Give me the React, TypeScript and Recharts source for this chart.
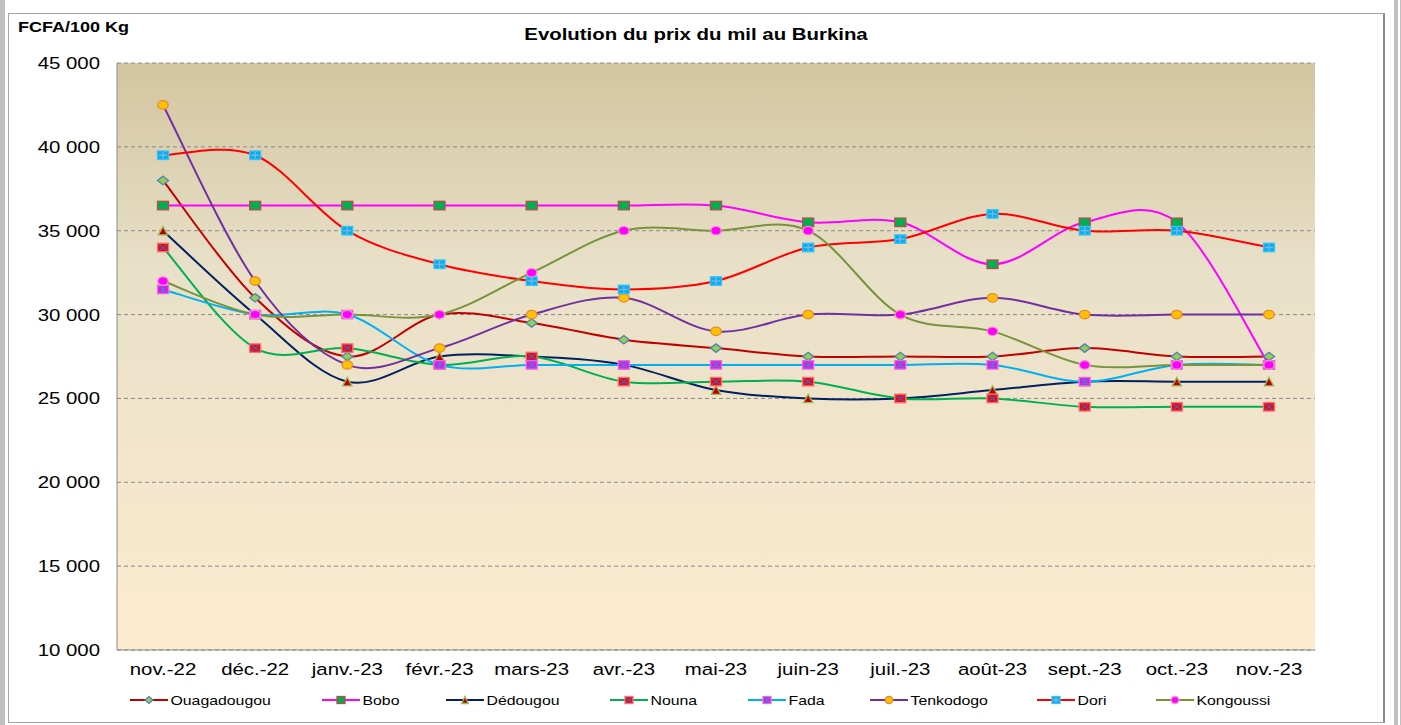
import React from 'react';
import { LineChart, Line, XAxis, YAxis, CartesianGrid } from 'recharts';

const months = ['nov.-22', 'déc.-22', 'janv.-23', 'févr.-23', 'mars-23', 'avr.-23', 'mai-23', 'juin-23', 'juil.-23', 'août-23', 'sept.-23', 'oct.-23', 'nov.-23'];

const ouagadougou = [38000, 31000, 27500, 30000, 29500, 28500, 28000, 27500, 27500, 27500, 28000, 27500, 27500];
const bobo = [36500, 36500, 36500, 36500, 36500, 36500, 36500, 35500, 35500, 33000, 35500, 35500, 27000];
const dedougou = [35000, 30000, 26000, 27500, 27500, 27000, 25500, 25000, 25000, 25500, 26000, 26000, 26000];
const nouna = [34000, 28000, 28000, 27000, 27500, 26000, 26000, 26000, 25000, 25000, 24500, 24500, 24500];
const fada = [31500, 30000, 30000, 27000, 27000, 27000, 27000, 27000, 27000, 27000, 26000, 27000, 27000];
const tenkodogo = [42500, 32000, 27000, 28000, 30000, 31000, 29000, 30000, 30000, 31000, 30000, 30000, 30000];
const dori = [39500, 39500, 35000, 33000, 32000, 31500, 32000, 34000, 34500, 36000, 35000, 35000, 34000];
const kongoussi = [32000, 30000, 30000, 30000, 32500, 35000, 35000, 35000, 30000, 29000, 27000, 27000, 27000];

const seriesNames = ['Ouagadougou', 'Bobo', 'Dédougou', 'Nouna', 'Fada', 'Tenkodogo', 'Dori', 'Kongoussi'];
const seriesValues = [ouagadougou, bobo, dedougou, nouna, fada, tenkodogo, dori, kongoussi];
const yTicks = [10000, 15000, 20000, 25000, 30000, 35000, 40000, 45000];

const chartTitle = 'Evolution du prix du mil au Burkina';
const unitLabel = 'FCFA/100 Kg';

type Sty = { color: string; marker: string; fill: string; stroke: string; inner?: string; innerColor?: string };
const STYLES: Sty[] = [
  { color: '#c00000', marker: 'diamond', fill: '#92d050', stroke: '#4f81bd' },
  { color: '#ff00ff', marker: 'square', fill: '#00b050', stroke: '#b0504a' },
  { color: '#002060', marker: 'triangle', fill: '#c00000', stroke: '#9bbb59' },
  { color: '#00b050', marker: 'square', fill: '#ff0000', stroke: '#ff7070', inner: 'x', innerColor: '#4060c0' },
  { color: '#00b0f0', marker: 'square', fill: '#ff00ff', stroke: '#e070e0', inner: 'star', innerColor: '#4f81bd' },
  { color: '#7030a0', marker: 'circle', fill: '#ffc000', stroke: '#e68a30' },
  { color: '#ff0000', marker: 'square', fill: '#00b0f0', stroke: '#40c0f0', inner: 'plus', innerColor: '#8db4e2' },
  { color: '#77933c', marker: 'circle', fill: '#ff00ff', stroke: '#f090d0' },
];

const data = months.map((m, i) => {
  const row: any = { month: m };
  seriesNames.forEach((n, k) => {
    row[n] = seriesValues[k][i];
  });
  return row;
});

const FONT = "'Liberation Sans', Arial, Helvetica, sans-serif";
const SX = 1.2;

// Excel-like smoothed line (Catmull-Rom style bezier)
const excelCurve: any = (context: any) => {
  let pts: number[][] = [];
  return {
    areaStart() {},
    areaEnd() {},
    lineStart() {
      pts = [];
    },
    lineEnd() {
      const n = pts.length;
      if (!n) return;
      context.moveTo(pts[0][0], pts[0][1]);
      if (n === 2) {
        context.lineTo(pts[1][0], pts[1][1]);
        return;
      }
      for (let i = 0; i < n - 1; i++) {
        const p0 = pts[i - 1] || pts[i];
        const p1 = pts[i];
        const p2 = pts[i + 1];
        const p3 = pts[i + 2] || p2;
        const c1x = p1[0] + (p2[0] - p0[0]) / 6;
        const c1y = p1[1] + (p2[1] - p0[1]) / 6;
        const c2x = p2[0] - (p3[0] - p1[0]) / 6;
        const c2y = p2[1] - (p3[1] - p1[1]) / 6;
        context.bezierCurveTo(c1x, c1y, c2x, c2y, p2[0], p2[1]);
      }
    },
    point(x: number, y: number) {
      pts.push([+x, +y]);
    },
  };
};

function Marker({ cx, cy, s, w, h }: { cx: number; cy: number; s: Sty; w: number; h: number }) {
  const hw = w / 2;
  const hh = h / 2;
  let shape: any = null;
  if (s.marker === 'diamond') {
    shape = <polygon points={`${cx},${cy - hh} ${cx + hw},${cy} ${cx},${cy + hh} ${cx - hw},${cy}`} fill={s.fill} stroke={s.stroke} strokeWidth={1.3} />;
  } else if (s.marker === 'square') {
    shape = <rect x={cx - hw} y={cy - hh} width={w} height={h} fill={s.fill} stroke={s.stroke} strokeWidth={1.3} />;
  } else if (s.marker === 'triangle') {
    shape = <polygon points={`${cx},${cy - hh} ${cx + hw * 0.85},${cy + hh} ${cx - hw * 0.85},${cy + hh}`} fill={s.fill} stroke={s.stroke} strokeWidth={1.3} />;
  } else {
    shape = <ellipse cx={cx} cy={cy} rx={hw * 0.95} ry={hh} fill={s.fill} stroke={s.stroke} strokeWidth={1.3} />;
  }
  let inner: any = null;
  const ic = s.innerColor;
  const ix = hw * 0.75;
  const iy = hh * 0.75;
  if (s.inner === 'x') {
    inner = (
      <g stroke={ic} strokeWidth={1.2}>
        <line x1={cx - ix} y1={cy - iy} x2={cx + ix} y2={cy + iy} />
        <line x1={cx - ix} y1={cy + iy} x2={cx + ix} y2={cy - iy} />
      </g>
    );
  } else if (s.inner === 'star') {
    inner = (
      <g stroke={ic} strokeWidth={1.2}>
        <line x1={cx - ix} y1={cy - iy} x2={cx + ix} y2={cy + iy} />
        <line x1={cx - ix} y1={cy + iy} x2={cx + ix} y2={cy - iy} />
        <line x1={cx} y1={cy - iy} x2={cx} y2={cy + iy} />
      </g>
    );
  } else if (s.inner === 'plus') {
    inner = (
      <g stroke={ic} strokeWidth={1.2}>
        <line x1={cx - ix} y1={cy} x2={cx + ix} y2={cy} />
        <line x1={cx} y1={cy - iy} x2={cx} y2={cy + iy} />
      </g>
    );
  }
  return (
    <g>
      {shape}
      {inner}
    </g>
  );
}

const fmt = (v: number) => {
  const s = String(v);
  return s.length > 3 ? s.slice(0, s.length - 3) + ' ' + s.slice(s.length - 3) : s;
};

const YTick = (p: any) => (
  <text
    x={p.x}
    y={p.y}
    dy={6}
    textAnchor="end"
    fontSize={17}
    fill="#000"
    fontFamily={FONT}
    transform={`translate(${p.x},0) scale(${SX},1) translate(${-p.x},0)`}
  >
    {fmt(p.payload.value)}
  </text>
);

const XTick = (p: any) => (
  <text
    x={p.x}
    y={675}
    textAnchor="middle"
    fontSize={17}
    fill="#000"
    fontFamily={FONT}
    transform={`translate(${p.x},0) scale(${SX},1) translate(${-p.x},0)`}
  >
    {p.payload.value}
  </text>
);

const legendX = [130, 322, 446, 610, 748, 870, 1037, 1156];

function Legend() {
  const y = 700;
  return (
    <svg width={1401} height={725} style={{ position: 'absolute', left: 0, top: 0, pointerEvents: 'none' }}>
      {seriesNames.map((n, i) => {
        const x0 = legendX[i];
        const s = STYLES[i];
        return (
          <g key={n}>
            <line x1={x0} y1={y} x2={x0 + 38} y2={y} stroke={s.color} strokeWidth={2} />
            <Marker cx={x0 + 19} cy={y} s={s} w={8} h={7} />
            <text
              x={x0 + 40.5}
              y={y + 5}
              fontSize={13.2}
              fontFamily={FONT}
              fill="#000"
              transform={`translate(${x0 + 40.5},0) scale(${SX},1) translate(${-(x0 + 40.5)},0)`}
            >
              {n}
            </text>
          </g>
        );
      })}
    </svg>
  );
}

export default function App() {
  return (
    <div style={{ position: 'absolute', left: 0, top: 0, width: 1401, height: 725, background: '#fff', overflow: 'hidden' }}>
      {/* frame */}
      <div style={{ position: 'absolute', left: 0, top: 0, width: 5, height: 725, background: '#c0c0c0' }} />
      <div style={{ position: 'absolute', left: 1394, top: 0, width: 4, height: 725, background: '#c0c0c0' }} />
      <div style={{ position: 'absolute', left: 1400, top: 0, width: 1, height: 725, background: '#c0c0c0' }} />
      <div
        style={{
          position: 'absolute',
          left: 8,
          top: 13,
          width: 1374,
          height: 708,
          borderTop: '1px solid #a6a6a6',
          borderLeft: '1px solid #a6a6a6',
          borderBottom: '1px solid #a6a6a6',
          borderRight: '2px solid #8c8c8c',
        }}
      />
      <div style={{ position: 'absolute', left: 0, top: 0 }}>
        <LineChart width={1401} height={725} data={data} margin={{ top: 63, right: 86, left: 17, bottom: 45 }}>
          <defs>
            <linearGradient id="plotBg" x1="0" y1="0" x2="0" y2="1">
              <stop offset="0%" stopColor="#d2c5a0" />
              <stop offset="35%" stopColor="#e8e0c8" />
              <stop offset="100%" stopColor="#fdebcf" />
            </linearGradient>
          </defs>
          <CartesianGrid vertical={false} stroke="#8a8a8a" strokeDasharray="4 3" fill="url(#plotBg)" fillOpacity={1} />
          <XAxis
            dataKey="month"
            padding={{ left: 46, right: 46 }}
            axisLine={{ stroke: '#8a8a8a', strokeWidth: 1 }}
            tickLine={false}
            tickSize={0}
            tickMargin={0}
            height={30}
            interval={0}
            tick={<XTick />}
          />
          <YAxis
            domain={[10000, 45000]}
            ticks={yTicks}
            type="number"
            allowDataOverflow
            width={100}
            axisLine={{ stroke: '#8a8a8a', strokeWidth: 1 }}
            tickLine={false}
            tickSize={0}
            tickMargin={17}
            tick={<YTick />}
          />
          {seriesNames.map((n, i) => (
            <Line
              key={n}
              dataKey={n}
              type={excelCurve}
              stroke={STYLES[i].color}
              strokeWidth={2}
              isAnimationActive={false}
              activeDot={false}
              dot={(p: any) => <Marker key={`${n}-${p.index}`} cx={p.cx} cy={p.cy} s={STYLES[i]} w={11} h={8.5} />}
            />
          ))}
        </LineChart>
      </div>
      <Legend />
      <div
        style={{
          position: 'absolute',
          left: 18,
          top: 18,
          fontFamily: FONT,
          fontWeight: 'bold',
          fontSize: 15,
          transform: `scale(${SX},1)`,
          transformOrigin: 'left top',
          whiteSpace: 'nowrap',
          color: '#000',
        }}
      >
        {unitLabel}
      </div>
      <div
        style={{
          position: 'absolute',
          left: 495.5,
          width: 400,
          top: 25,
          textAlign: 'center',
          fontFamily: FONT,
          fontWeight: 'bold',
          fontSize: 17,
          transform: `scale(${SX},1)`,
          transformOrigin: 'center top',
          whiteSpace: 'nowrap',
          color: '#000',
        }}
      >
        {chartTitle}
      </div>
    </div>
  );
}
